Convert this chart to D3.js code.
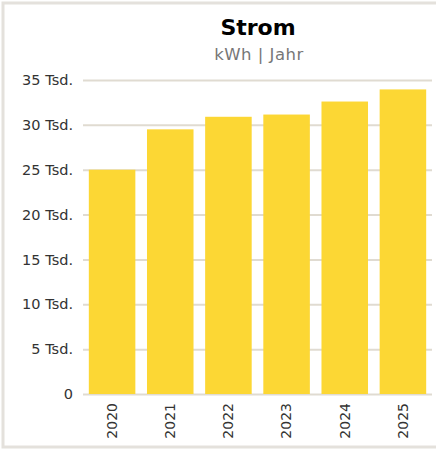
<!DOCTYPE html>
<html>
<head>
<meta charset="utf-8">
<script src="https://cdn.jsdelivr.net/npm/d3@7"></script>
<style>
  body { margin: 0; background: #fff; }
  text { font-family: "DejaVu Sans", Verdana, sans-serif; }
</style>
</head>
<body>
<div id="chart"></div>
<script>
var years = ['2020', '2021', '2022', '2023', '2024', '2025'];
var kwh = [25000, 29500, 30900, 31150, 32600, 33950];
var yTicks = [0, 5000, 10000, 15000, 20000, 25000, 30000, 35000];

var width = 436, height = 450;
var margin = {top: 80, right: 4, bottom: 56, left: 83};
var chartWidth = width - margin.left - margin.right;
var chartHeight = height - margin.top - margin.bottom;

var svg = d3.select('#chart').append('svg')
  .attr('width', width)
  .attr('height', height);

// frame round the whole card
svg.append('rect')
  .attr('x', 3).attr('y', 3)
  .attr('width', width + 10).attr('height', 444)
  .attr('fill', 'none')
  .attr('stroke', '#e4e1dc')
  .attr('stroke-width', 3);

svg.append('text')
  .attr('x', 258).attr('y', 35)
  .attr('text-anchor', 'middle')
  .attr('font-size', 22).attr('font-weight', 'bold')
  .attr('fill', '#000')
  .text('Strom');

svg.append('text')
  .attr('x', 259).attr('y', 60)
  .attr('text-anchor', 'middle')
  .attr('font-size', 16.5)
  .attr('letter-spacing', 0.5)
  .attr('fill', '#777')
  .text('kWh | Jahr');

var g = svg.append('g')
  .attr('transform', `translate(${margin.left},${margin.top})`);

var xScale = d3.scaleBand()
  .domain(years)
  .range([0, chartWidth])
  .paddingInner(0.2)
  .paddingOuter(0.1);

var yScale = d3.scaleLinear()
  .domain([0, 35000])
  .range([chartHeight, 0]);

var fmt = d => d === 0 ? '0' : (d / 1000) + ' Tsd.';

var yAxis = d3.axisLeft(yScale)
  .tickValues(yTicks)
  .tickSize(-chartWidth)
  .tickPadding(10)
  .tickFormat(fmt);

var yG = g.append('g').attr('class', 'y axis').call(yAxis);
yG.select('.domain').remove();
yG.selectAll('.tick line').attr('stroke', '#e0dbd1').attr('stroke-width', 2);
yG.selectAll('.tick text')
  .attr('font-size', 14.5)
  .attr('fill', '#333')
  .style('font-family', '"DejaVu Sans", Verdana, sans-serif');

g.selectAll('.bar')
  .data(kwh)
  .enter()
  .append('rect')
  .attr('class', 'bar')
  .attr('x', (d, i) => xScale(years[i]))
  .attr('y', d => yScale(d))
  .attr('width', xScale.bandwidth())
  .attr('height', d => chartHeight - yScale(d))
  .attr('fill', '#fcd734');

var xAxis = d3.axisBottom(xScale).tickSize(0).tickPadding(0);
var xG = g.append('g')
  .attr('class', 'x axis')
  .attr('transform', `translate(0,${chartHeight})`)
  .call(xAxis);
xG.select('.domain').remove();
xG.selectAll('.tick text')
  .attr('transform', 'rotate(-90)')
  .attr('x', -9)
  .attr('y', 0)
  .attr('dy', '0.35em')
  .attr('text-anchor', 'end')
  .attr('font-size', 14)
  .attr('fill', '#333')
  .style('font-family', '"DejaVu Sans", Verdana, sans-serif');
</script>
</body>
</html>
